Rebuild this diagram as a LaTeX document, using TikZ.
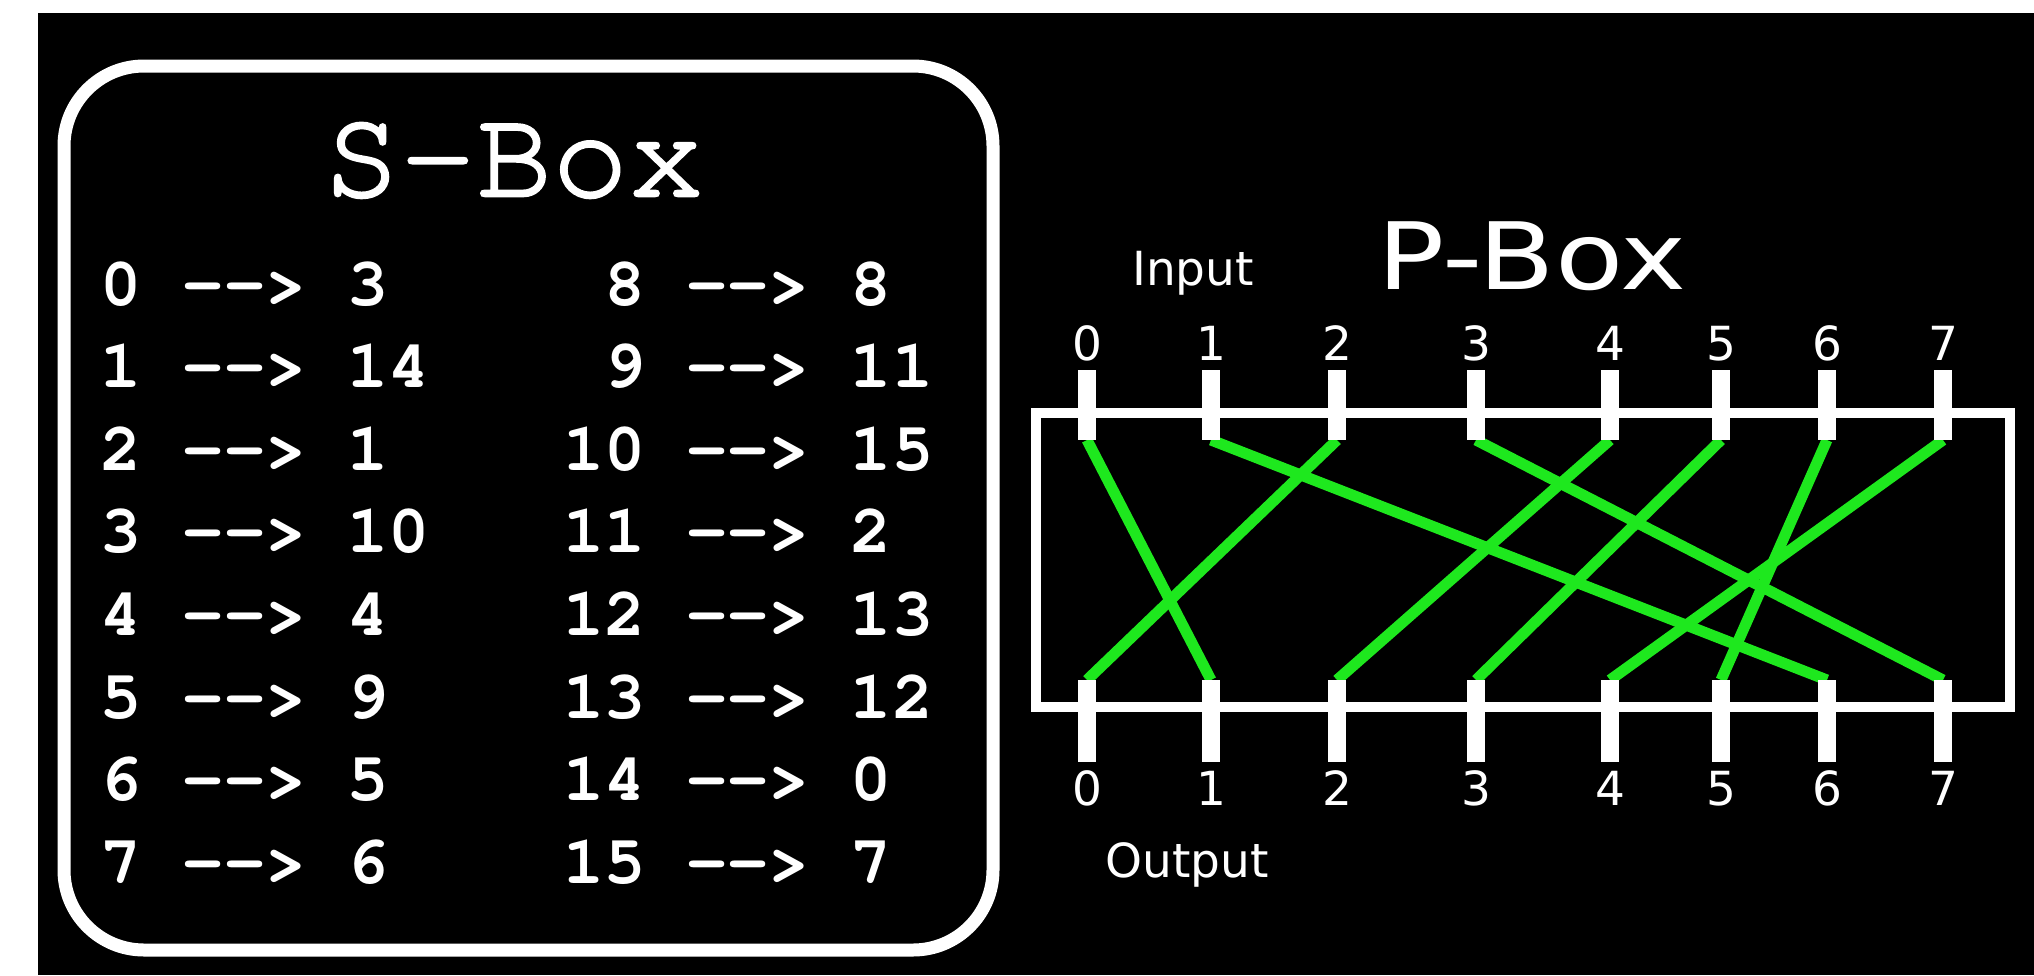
\documentclass[tikz,border=0pt]{standalone}
\usepackage{fontspec}
\usepackage{graphicx}
\newfontfamily\courfont[Extension=.otf, UprightFont=*-regular, BoldFont=*-bold]{texgyrecursor}
\newfontfamily\courtitle[Extension=.otf, UprightFont=*-regular, UprightFeatures={FakeBold=2}]{texgyrecursor}
\newfontfamily\dejavu{DejaVu Sans}
\definecolor{wiregreen}{RGB}{30,232,30}
\begin{document}
\begin{tikzpicture}[x=1pt,y=-1pt,
  tbl/.style={text=white, inner sep=0pt, anchor=base west,
    font=\courfont\bfseries\fontsize{68.5}{70}\selectfont},
  stitle/.style={text=white, inner sep=0pt, anchor=base,
    font=\courtitle\fontsize{127}{130}\selectfont},
  plabel/.style={text=white, inner sep=0pt, anchor=base,
    font=\dejavu\fontsize{47}{50}\selectfont},
  ptitle/.style={text=white, inner sep=0pt, anchor=base,
    font=\dejavu\fontsize{93}{95}\selectfont},
  frame/.style={draw=white, line width=13pt, rounded corners=80pt},
  pframe/.style={draw=white, line width=10pt},
  pinbar/.style={draw=white, line width=18pt},
  wire/.style={draw=wiregreen, line width=11pt}
]
\useasboundingbox (0,0) rectangle (2034,975);
\fill[white] (0,0) rectangle (2034,975);
\fill[black] (38,13) rectangle (2034,975);

% ---------- S-Box ----------
\draw[frame] (64,66) rectangle (993,950);
\node[stitle] (stitle) at (514,196) {S-Box};

\foreach \k/\txt in {0/{0 -{}-> 3},1/{1 -{}-> 14},2/{2 -{}-> 1},3/{3 -{}-> 10},
                     4/{4 -{}-> 4},5/{5 -{}-> 9},6/{6 -{}-> 5},7/{7 -{}-> 6}}{
  \node[tbl] (l\k) at (100.5,{305+82.6*\k}) {\txt};
}
\foreach \k/\txt in {0/{\hphantom{0}8 -{}-> 8},1/{\hphantom{0}9 -{}-> 11},2/{10 -{}-> 15},3/{11 -{}-> 2},
                     4/{12 -{}-> 13},5/{13 -{}-> 12},6/{14 -{}-> 0},7/{15 -{}-> 7}}{
  \node[tbl] (r\k) at (563,{305+82.6*\k}) {\txt};
}

% ---------- P-Box ----------
\node[plabel] (inlabel) at (1193,285) {Input};
\node[plabel] (outlabel) at (1187,877) {Output};
\node[ptitle] (ptitle) at (1532,289) {\scalebox{1.2}[1]{P-Box}};

\draw[pframe] (1036,413) rectangle (2010,707);

\foreach \i/\x in {0/1087,1/1211,2/1337,3/1476,4/1610,5/1721,6/1827,7/1943}{
  \coordinate (in\i) at (\x,440);
  \coordinate (out\i) at (\x,680);
  \coordinate (intop\i) at (\x,370);
  \coordinate (outbot\i) at (\x,762);
}
\foreach \a/\b in {0/1,1/6,2/0,3/7,4/2,5/3,6/5,7/4}{
  \draw[wire] (in\a) -- (out\b);
}
\foreach \i/\x in {0/1087,1/1211,2/1337,3/1476,4/1610,5/1721,6/1827,7/1943}{
  \draw[pinbar] (intop\i) -- (in\i);
  \draw[pinbar] (out\i) -- (outbot\i);
  \node[plabel] (tin\i) at (\x,360) {\i};
  \node[plabel] (tout\i) at (\x,805) {\i};
}
\end{tikzpicture}
\end{document}
